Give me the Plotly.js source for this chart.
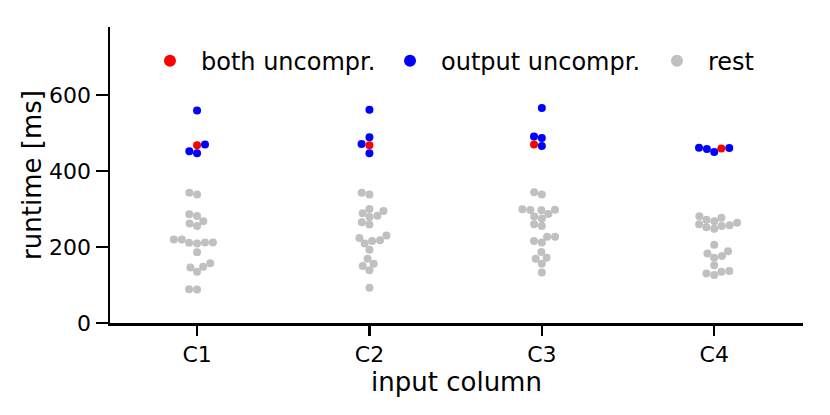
<!DOCTYPE html>
<html>
<head>
<meta charset="utf-8">
<script src="https://cdn.plot.ly/plotly-3.0.1.min.js"></script>
<style>html,body{margin:0;padding:0;background:#fff;}#chart{width:830px;height:415px;}</style>
</head>
<body>
<div id="chart"></div>
<script>
// ---- data ----
const categories = ['C1', 'C2', 'C3', 'C4'];
const seriesNames = ['both uncompr.', 'output uncompr.', 'rest'];
// runtime [ms] per input column
const bothUncompr = [
  [468],
  [468],
  [470],
  [459]
];
const outputUncompr = [
  [559, 470, 452, 447],
  [561, 489, 471, 447],
  [566, 491, 487, 466],
  [461, 460.5, 458, 450]
];
const rest = [
  [343, 338, 286, 281.5, 267.5, 262, 255, 219.65, 219.5, 211.8, 211.65, 211.4, 209, 186, 157, 148, 146, 135, 89, 88],
  [343, 338, 300, 295, 289, 282, 279, 265, 259, 230, 224, 218, 216, 209, 193, 169, 156, 150, 139, 93],
  [344, 338, 299.5, 298, 297.5, 297, 287, 280, 275, 260, 255, 227, 227, 216, 212, 187, 172, 169, 156, 133],
  [281, 277, 272, 268, 264, 260, 257, 255, 252, 248, 206, 189, 183, 176, 172, 152, 137, 135, 130, 126]
];

// ---- layout geometry ----
const W = 830, H = 415;
const M = {l: 110, r: 27, t: 27, b: 92};
const xRange = [-0.505, 3.515];
const yRange = [0, 779];
const pxPerX = (W - M.l - M.r) / (xRange[1] - xRange[0]);
const pxPerY = (H - M.t - M.b) / (yRange[1] - yRange[0]);
const R = 3.8; // swarm point radius in px

// beeswarm placement (seaborn-style) computed in pixel space
function swarmOffsets(values) {
  const idx = values.map((v, i) => i).sort((a, b) => values[a] - values[b]);
  const swarm = [];
  const out = new Array(values.length).fill(0);
  for (const i of idx) {
    const y = values[i] * pxPerY;
    if (swarm.length === 0) { swarm.push({x: 0, y}); out[i] = 0; continue; }
    const neighbors = [];
    for (let k = swarm.length - 1; k >= 0; k--) {
      if (y - swarm[k].y < 2 * R) neighbors.push(swarm[k]); else break;
    }
    const cands = [0];
    let leftFirst = true;
    for (const n of neighbors) {
      const dy = y - n.y;
      const dx = Math.sqrt(Math.max(4 * R * R - dy * dy, 0)) * 1.05;
      if (leftFirst) cands.push(n.x - dx, n.x + dx); else cands.push(n.x + dx, n.x - dx);
      leftFirst = !leftFirst;
    }
    const order = cands.map((c, j) => j).sort((a, b) => (Math.abs(cands[a]) - Math.abs(cands[b])) || (a - b));
    let chosen = cands[order[0]];
    if (neighbors.length) {
      for (const j of order) {
        const cx = cands[j];
        if (neighbors.every(n => (n.x - cx) ** 2 + (n.y - y) ** 2 >= 4 * R * R - 1e-9)) { chosen = cx; break; }
      }
    }
    swarm.push({x: chosen, y});
    out[i] = chosen;
  }
  return out;
}

const groups = [bothUncompr, outputUncompr, rest];
const colors = ['#ff0000', '#0000ff', '#c0c0c0'];
const xs = [[], [], []], ys = [[], [], []];
categories.forEach((cat, ci) => {
  const vals = [], grp = [];
  groups.forEach((g, gi) => g[ci].forEach(v => { vals.push(v); grp.push(gi); }));
  const off = swarmOffsets(vals);
  vals.forEach((v, k) => {
    xs[grp[k]].push(ci + off[k] / pxPerX);
    ys[grp[k]].push(v);
  });
});

const legendIds = ['legend', 'legend2', 'legend3'];
const traces = seriesNames.map((name, gi) => ({
  type: 'scatter', mode: 'markers', name: name,
  x: xs[gi], y: ys[gi],
  marker: {color: colors[gi], size: 8, line: {width: 0}},
  legend: legendIds[gi],
  hoverinfo: 'x+y'
}));

const font = 'DejaVu Sans, sans-serif';
const legendPos = [0.0418, 0.3882, 0.7734];
function legendStyle(x) {
  return {
    orientation: 'h', x: x, xanchor: 'left', y: 0.885, yanchor: 'middle',
    font: {family: font, size: 24, color: '#000'},
    bgcolor: 'rgba(0,0,0,0)', borderwidth: 0, itemwidth: 52, itemsizing: 'constant'
  };
}
const layout = {
  width: W, height: H,
  margin: M,
  paper_bgcolor: '#fff', plot_bgcolor: '#fff',
  font: {family: font, color: '#000', size: 22},
  showlegend: true,
  legend: legendStyle(legendPos[0]),
  legend2: legendStyle(legendPos[1]),
  legend3: legendStyle(legendPos[2]),
  xaxis: {
    range: xRange, tickmode: 'array', tickvals: categories.map((c, i) => i), ticktext: categories,
    showline: true, linecolor: '#000', linewidth: 2.5, mirror: false,
    ticks: 'outside', ticklen: 10, tickwidth: 2.5, tickcolor: '#000',
    showgrid: false, zeroline: false,
    tickfont: {family: font, size: 22, color: '#000'},
    title: {text: 'input column', font: {family: font, size: 26, color: '#000'}, standoff: 6}
  },
  yaxis: {
    range: yRange, tickmode: 'array', tickvals: [0, 200, 400, 600],
    showline: true, linecolor: '#000', linewidth: 2.5, mirror: false,
    ticks: 'outside', ticklen: 12, tickwidth: 2.5, tickcolor: '#000',
    showgrid: false, zeroline: false,
    tickfont: {family: font, size: 22, color: '#000'},
    title: {text: 'runtime [ms]', font: {family: font, size: 26, color: '#000'}, standoff: 0}
  }
};

Plotly.newPlot('chart', traces, layout, {displayModeBar: false, staticPlot: true});
</script>
</body>
</html>
